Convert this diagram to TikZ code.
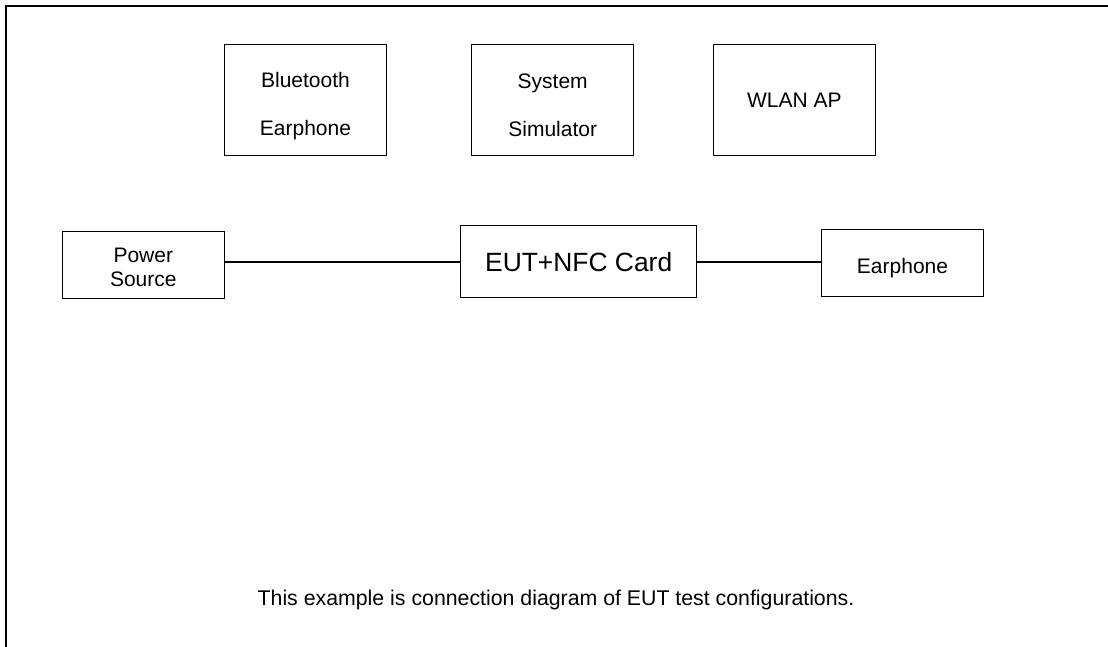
\documentclass[tikz,border=0pt]{standalone}
\usepackage{fontspec}
\setmainfont{Liberation Sans}
\usepackage{tikz}
\tikzstyle{box}=[draw,line width=1.2pt,inner sep=0pt,align=center,minimum width=162pt]
\tikzstyle{wire} = [draw,line width=2pt,-]

\begin{document}
\begin{tikzpicture}[x=1pt,y=1pt]
        \useasboundingbox (0,0) rectangle (1108,647);
        \draw[line width=2.2pt] (6.3,-5) -- (6.3,640.7) -- (1115,640.7);
        \node[box,minimum height=111pt,text height=72pt,text depth=0pt,font=\fontsize{21}{48}\selectfont] (bt) at (305.5,547) {Bluetooth\\Earphone};
        \node[box,minimum height=111pt,text height=72pt,text depth=0pt,font=\fontsize{21}{48}\selectfont] (sim) at (552.7,546.7) {System\\Simulator};
        \node[box,minimum height=111pt,font=\fontsize{21}{25}\selectfont] (wlan) at (794.3,547) {WLAN AP};
        \node[box,minimum height=67pt,text height=43.6pt,text depth=0pt,font=\fontsize{21}{24.3}\selectfont] (pwr) at (143.3,381.8) {Power\\Source};
        \node[box,minimum width=236pt,minimum height=72pt,font=\fontsize{26.4}{30}\selectfont] (eut) at (578.7,385.3) {EUT+NFC Card};
        \node[box,minimum height=67pt,text height=21.2pt,text depth=0pt,font=\fontsize{21}{25}\selectfont] (ear) at (902.5,384.3) {Earphone};
        \node[font=\fontsize{21.3}{25}\selectfont] (note) at (556,47) {This example is connection diagram of EUT test configurations.};
        \draw[wire] (eut.west) -- (eut.west -| pwr.east);
        \draw[wire] (eut.east) -- (eut.east -| ear.west);
      \end{tikzpicture}
\end{document}
